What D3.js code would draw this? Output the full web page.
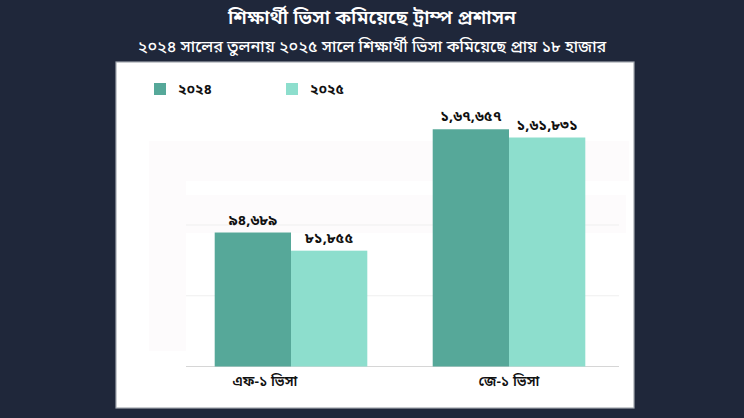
<!DOCTYPE html>
<html>
<head>
<meta charset="utf-8">
<script src="https://cdn.jsdelivr.net/npm/d3@7"></script>
<style>
  html, body { margin: 0; padding: 0; background: #1f273a; }
  svg { display: block; font-family: "Noto Sans", "Noto Sans Bengali", sans-serif; }
</style>
</head>
<body>
<div id="chart"></div>
<script>
// data
var categories = ["এফ-১ ভিসা", "জে-১ ভিসা"];
var years = ["২০২৪", "২০২৫"];
var values2024 = [94689, 167657];
var values2025 = [81855, 161831];
var gridTicks = [0, 50000, 100000];

var W = 744, H = 418;
var colors = ["#56a899", "#8ddecd"];

// বাংলা সংখ্যা
var bnDigits = "০১২৩৪৫৬৭৮৯";
function toBn(n) {
	// ভারতীয় পদ্ধতিতে কমা: ১,৬৭,৬৫৭
	var s = String(n);
	var last3 = s.slice(-3), rest = s.slice(0, -3);
	if (rest.length > 0) {
		rest = rest.replace(/\B(?=(\d{2})+(?!\d))/g, ",");
		s = rest + "," + last3;
	}
	return s.replace(/\d/g, function(d) { return bnDigits[+d]; });
}

var svg = d3.select("#chart").append("svg")
	.attr("width", W).attr("height", H);

svg.append("rect").attr("width", W).attr("height", H).attr("fill", "#1f273a");

// title + subtitle
svg.append("text").attr("x", W / 2).attr("y", 24)
	.attr("text-anchor", "middle").attr("fill", "#fff")
	.attr("font-size", 19.5).attr("font-weight", 600)
	.text("শিক্ষার্থী ভিসা কমিয়েছে ট্রাম্প প্রশাসন");
svg.append("text").attr("x", W / 2).attr("y", 52)
	.attr("text-anchor", "middle").attr("fill", "#fff")
	.attr("font-size", 16.2).attr("font-weight", 500)
	.text("২০২৪ সালের তুলনায় ২০২৫ সালে শিক্ষার্থী ভিসা কমিয়েছে প্রায় ১৮ হাজার");

// white panel
svg.append("rect").attr("x", 116).attr("y", 62).attr("width", 518).attr("height", 346)
	.attr("fill", "#fff").attr("stroke", "#a3a8b0").attr("stroke-width", 1.2);

// faint blocks seen in the picture
var g = svg.append("g");
g.append("rect").attr("x", 149).attr("y", 141).attr("width", 480).attr("height", 40).attr("fill", "#fdfbfc");
g.append("rect").attr("x", 149).attr("y", 181).attr("width", 37).attr("height", 170).attr("fill", "#fdfbfc");
g.append("rect").attr("x", 186).attr("y", 195).attr("width", 440).attr("height", 38).attr("fill", "#fdfbfc");

var x = d3.scaleBand().domain(categories).range([182, 618])
	.paddingInner(0.3).paddingOuter(0.15);
var xs = d3.scaleBand().domain(years).range([0, x.bandwidth()]);
var y = d3.scaleLinear().domain([0, 200000]).range([366.5, 83.5]);

// gridlines
g.selectAll("line.grid").data(gridTicks).enter().append("line")
	.attr("x1", 186).attr("x2", 619)
	.attr("y1", function(d) { return y(d); }).attr("y2", function(d) { return y(d); })
	.attr("stroke", function(d) { return d === 0 ? "#d6d6d6" : "#efefef"; })
	.attr("stroke-width", 1);

var rows = categories.map(function(c, i) {
	return { cat: c, vals: [values2024[i], values2025[i]] };
});

var grp = g.selectAll("g.cat").data(rows).enter().append("g")
	.attr("transform", function(d) { return "translate(" + x(d.cat) + ",0)"; });

grp.selectAll("rect").data(function(d) { return d.vals; }).enter().append("rect")
	.attr("x", function(d, i) { return xs(years[i]); })
	.attr("width", xs.bandwidth())
	.attr("y", function(d) { return y(d); })
	.attr("height", function(d) { return y(0) - y(d); })
	.attr("fill", function(d, i) { return colors[i]; });

grp.selectAll("text.val").data(function(d) { return d.vals; }).enter().append("text")
	.attr("x", function(d, i) { return xs(years[i]) + xs.bandwidth() / 2; })
	.attr("y", function(d) { return y(d) - 8; })
	.attr("text-anchor", "middle").attr("fill", "#111")
	.attr("font-size", 14.5).attr("font-weight", 700)
	.text(function(d) { return toBn(d); });

// category labels (the first one sits a little left in the picture)
grp.append("text")
	.attr("x", x.bandwidth() / 2).attr("y", 386)
	.attr("dx", function(d, i) { return i === 0 ? -26 : 0; })
	.attr("text-anchor", "middle").attr("fill", "#111")
	.attr("font-size", 14).attr("font-weight", 600)
	.text(function(d) { return d.cat; });

// legend
var lg = svg.selectAll("g.legend").data(years).enter().append("g")
	.attr("transform", function(d, i) { return "translate(" + (154 + i * 132) + ",83)"; });
lg.append("rect").attr("width", 12).attr("height", 12)
	.attr("fill", function(d, i) { return colors[i]; });
lg.append("text").attr("x", 24).attr("y", 11)
	.attr("fill", "#111").attr("font-size", 14).attr("font-weight", 700)
	.text(function(d) { return d; });
</script>
</body>
</html>
